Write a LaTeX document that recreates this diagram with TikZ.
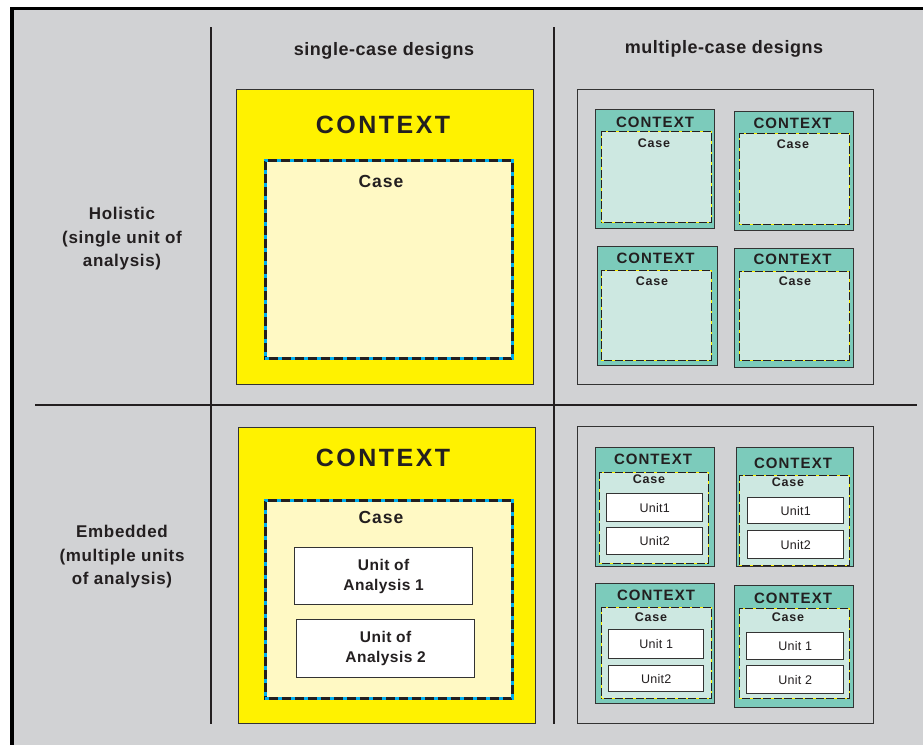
\documentclass[tikz,border=0pt]{standalone}
\usepackage{fontspec}
\setmainfont{Liberation Sans}
\definecolor{bggray}{HTML}{D1D2D4}
\definecolor{ctxyellow}{HTML}{FFF200}
\definecolor{caseyellow}{HTML}{FFF9C4}
\definecolor{ctxteal}{HTML}{7CCBBB}
\definecolor{caseteal}{HTML}{CDE8E1}
\definecolor{dashcyan}{HTML}{00AEEF}
\definecolor{ink}{HTML}{231F20}
\definecolor{boxline}{HTML}{333333}
\newcommand\fHdr{\fontsize{18}{20}\selectfont\bfseries\addfontfeatures{LetterSpace=3}}
\newcommand\fRow{\fontsize{17}{23.5}\selectfont\bfseries\addfontfeatures{LetterSpace=4}}
\newcommand\fCtxBig{\fontsize{25}{28}\selectfont\bfseries\addfontfeatures{LetterSpace=10}}
\newcommand\fCaseBig{\fontsize{17.5}{20}\selectfont\bfseries\addfontfeatures{LetterSpace=6}}
\newcommand\fUoa{\fontsize{15.5}{20}\selectfont\bfseries\addfontfeatures{LetterSpace=3}}
\newcommand\fCtxSm{\fontsize{15}{16}\selectfont\bfseries\addfontfeatures{LetterSpace=7}}
\newcommand\fCaseSm{\fontsize{12.5}{14}\selectfont\bfseries\addfontfeatures{LetterSpace=6}}
\newcommand\fUnit{\fontsize{12.5}{14}\selectfont\addfontfeatures{LetterSpace=2}}
\begin{document}
\begin{tikzpicture}[x=1pt,y=-1pt,
  divider/.style={ink,line width=2.2pt},
  bigctx/.style={rectangle,draw=boxline,fill=ctxyellow,line width=1.2pt,anchor=north west,inner sep=0pt},
  bigcase/.style={rectangle,draw=ink,fill=caseyellow,line width=2.6pt,anchor=north west,inner sep=0pt,
    postaction={draw=dashcyan,line width=2.6pt,dash pattern=on 4pt off 9pt}},
  uoabox/.style={rectangle,draw=boxline,fill=white,line width=1.3pt,anchor=north west,inner sep=0pt,
    align=center,font=\fUoa,text=ink},
  groupbox/.style={rectangle,draw=boxline,line width=1.4pt,anchor=north west,inner sep=0pt},
  tealbox/.style={rectangle,draw=boxline,fill=ctxteal,line width=1.4pt,anchor=north west,inner sep=0pt},
  tealcase/.style={rectangle,draw=ink,fill=caseteal,line width=1.3pt,anchor=north west,inner sep=0pt,
    postaction={draw=ctxyellow,line width=1.3pt,dash pattern=on 2.5pt off 8pt}},
  unitbox/.style={rectangle,draw=boxline,fill=white,line width=1.3pt,anchor=north west,inner sep=0pt,
    font=\fUnit,text=ink},
  hdr/.style={font=\fHdr,text=ink,inner sep=0pt},
  rowlbl/.style={font=\fRow,text=ink,align=center,inner sep=0pt},
  ctxbigtxt/.style={font=\fCtxBig,text=ink,inner sep=0pt},
  casebigtxt/.style={font=\fCaseBig,text=ink,inner sep=0pt},
  ctxsmtxt/.style={font=\fCtxSm,text=ink,inner sep=0pt},
  casesmtxt/.style={font=\fCaseSm,text=ink,inner sep=0pt}]
\useasboundingbox (0,0) rectangle (923,744);
\clip (0,0) rectangle (923,744);
\fill[white] (0,0) rectangle (923,744);
\fill[bggray] (12,8.5) rectangle (950,760);
\draw[black,line width=3.5pt] (12,770) -- (12,8.5) -- (950,8.5);

% dividers
\coordinate (v1t) at (211,27);
\coordinate (v1b) at (211,724);
\coordinate (v2t) at (554,27);
\coordinate (v2b) at (554,724);
\coordinate (hl) at (35,405);
\coordinate (hr) at (917,405);
\draw[divider] (v1t) -- (v1b);
\draw[divider] (v2t) -- (v2b);
\draw[divider] (hl) -- (hr);

% headers
\node[hdr] (hsingle) at (384,51) {single-case designs};
\node[hdr] (hmulti) at (724,49) {multiple-case designs};
\node[rowlbl] (rhol) at (122,239) {Holistic\\(single unit of\\analysis)};
\node[rowlbl] (remb) at (122,557) {Embedded\\(multiple units\\of analysis)};

% single-case holistic
\node[bigctx,minimum width=297pt,minimum height=295pt] (sc1) at (236,89) {};
\node[bigcase,minimum width=247pt,minimum height=198pt] (scc1) at (264,159) {};
\node[ctxbigtxt] (sct1) at (383,125) {CONTEXT};
\node[casebigtxt] (scct1) at (381,181) {Case};

% single-case embedded
\node[bigctx,minimum width=297pt,minimum height=296pt] (sc2) at (238,427) {};
\node[bigcase,minimum width=247pt,minimum height=198pt] (scc2) at (264,499) {};
\node[ctxbigtxt] (sct2) at (383,458) {CONTEXT};
\node[casebigtxt] (scct2) at (381,517) {Case};
\node[uoabox,minimum width=178pt,minimum height=57pt] (uoa1) at (294,547) {Unit of\\Analysis 1};
\node[uoabox,minimum width=178pt,minimum height=58pt] (uoa2) at (296,619) {Unit of\\Analysis 2};

% multiple-case holistic
\node[groupbox,minimum width=296pt,minimum height=295pt] (mh) at (577,89) {};
\node[tealbox,minimum width=119pt,minimum height=119pt] (mh1) at (595,109) {};
\node[tealcase,minimum width=110pt,minimum height=91pt] (mh1c) at (601,131) {};
\node[ctxsmtxt] (mh1t) at (655,122) {CONTEXT};
\node[casesmtxt] (mh1ct) at (654,143) {Case};
\node[tealbox,minimum width=119pt,minimum height=119pt] (mh2) at (734,111) {};
\node[tealcase,minimum width=110pt,minimum height=91pt] (mh2c) at (739,133) {};
\node[ctxsmtxt] (mh2t) at (792.5,123) {CONTEXT};
\node[casesmtxt] (mh2ct) at (793,144) {Case};
\node[tealbox,minimum width=120pt,minimum height=119pt] (mh3) at (597,246) {};
\node[tealcase,minimum width=110pt,minimum height=90pt] (mh3c) at (601,270) {};
\node[ctxsmtxt] (mh3t) at (655.5,258) {CONTEXT};
\node[casesmtxt] (mh3ct) at (652,281) {Case};
\node[tealbox,minimum width=119pt,minimum height=119pt] (mh4) at (734,248) {};
\node[tealcase,minimum width=110pt,minimum height=89pt] (mh4c) at (739,271) {};
\node[ctxsmtxt] (mh4t) at (792.5,259) {CONTEXT};
\node[casesmtxt] (mh4ct) at (795,281) {Case};

% multiple-case embedded
\node[groupbox,minimum width=296pt,minimum height=297pt] (me) at (577,426) {};
\node[tealbox,minimum width=119pt,minimum height=119pt] (me1) at (595,447) {};
\node[tealcase,minimum width=109pt,minimum height=91pt] (me1c) at (599,472) {};
\node[ctxsmtxt] (me1t) at (653,459) {CONTEXT};
\node[casesmtxt] (me1ct) at (649,479) {Case};
\node[unitbox,minimum width=96pt,minimum height=28pt] (me1u1) at (606,493) {Unit1};
\node[unitbox,minimum width=96pt,minimum height=27pt] (me1u2) at (606,527) {Unit2};
\node[tealbox,minimum width=117pt,minimum height=119pt] (me2) at (736,447) {};
\node[tealcase,minimum width=110pt,minimum height=90pt] (me2c) at (739,475) {};
\node[ctxsmtxt] (me2t) at (793,463) {CONTEXT};
\node[casesmtxt] (me2ct) at (788,482) {Case};
\node[unitbox,minimum width=96pt,minimum height=26pt] (me2u1) at (747,497) {Unit1};
\node[unitbox,minimum width=96pt,minimum height=28pt] (me2u2) at (747,530) {Unit2};
\node[tealbox,minimum width=119pt,minimum height=120pt] (me3) at (595,583) {};
\node[tealcase,minimum width=110pt,minimum height=91pt] (me3c) at (601,607) {};
\node[ctxsmtxt] (me3t) at (656,595) {CONTEXT};
\node[casesmtxt] (me3ct) at (651,617) {Case};
\node[unitbox,minimum width=95pt,minimum height=29pt] (me3u1) at (608,629) {Unit 1};
\node[unitbox,minimum width=95pt,minimum height=26pt] (me3u2) at (608,665) {Unit2};
\node[tealbox,minimum width=119pt,minimum height=122pt] (me4) at (734,585) {};
\node[tealcase,minimum width=110pt,minimum height=90pt] (me4c) at (739,608) {};
\node[ctxsmtxt] (me4t) at (793,598) {CONTEXT};
\node[casesmtxt] (me4ct) at (788,617) {Case};
\node[unitbox,minimum width=97pt,minimum height=27pt] (me4u1) at (746,632) {Unit 1};
\node[unitbox,minimum width=97pt,minimum height=28pt] (me4u2) at (746,665) {Unit 2};
\end{tikzpicture}
\end{document}
